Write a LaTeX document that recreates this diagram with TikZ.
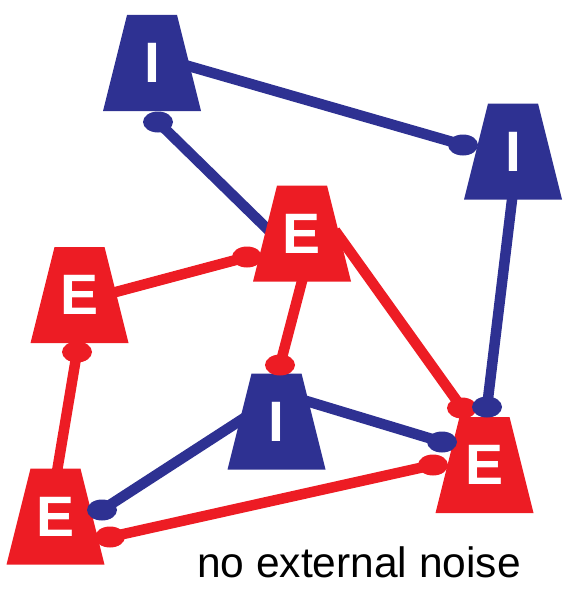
\documentclass[tikz,border=0pt]{standalone}
\usepackage{fontspec}
\setmainfont{Liberation Sans}
\usetikzlibrary{shapes.geometric,backgrounds,calc}
\definecolor{iblue}{RGB}{46,49,146}
\definecolor{ered}{RGB}{237,28,36}

% trapezoid body of a cell: top 50 wide, bottom 98 wide, 96 high
\newcommand\cellbody[2]{%
  \fill[#2] ($(#1.center)+(-25,-48)$) -- ++(50,0) -- ++(24,96) -- ++(-98,0) -- cycle;}

\begin{document}
\begin{tikzpicture}[x=1pt,y=-1pt,
  cell/.style={rectangle, minimum width=98pt, minimum height=96pt, inner sep=0pt,
    text=white, font=\fontsize{57}{57}\selectfont\bfseries},
  inh/.style={cell},
  exc/.style={cell},
  syn/.style={ellipse, minimum width=30pt, minimum height=21pt, inner sep=0pt},
  bsyn/.style={syn, fill=iblue},
  rsyn/.style={syn, fill=ered},
  bwire/.style={draw=iblue, line width=10.5pt},
  rwire/.style={draw=ered, line width=10.5pt}]
\useasboundingbox (0,0) rectangle (575,594);

% cells
\node[inh] (I1) at (152,63) {I};
\node[inh] (I2) at (513,151.5) {I};
\node[exc] (E1) at (302,233.5) {E};
\node[exc] (E2) at (79.5,295) {E};
\node[inh] (I3) at (276.5,421.5) {I};
\node[exc] (E3) at (484.5,465) {E};
\node[exc] (E4) at (55.5,516.5) {E};

% synaptic terminals
\node[rsyn] (sE1) at (247,257) {};
\node[rsyn] (sI3) at (280,365) {};
\node[rsyn] (sE3a) at (462,408) {};
\node[rsyn] (sE3d) at (433,465) {};
\node[rsyn] (sE4r) at (110,537) {};
\node[rsyn] (sE2) at (77,352) {};
\node[bsyn] (sI1) at (158,122) {};
\node[bsyn] (sI2) at (463,145) {};
\node[bsyn] (sE3b) at (487,407) {};
\node[bsyn] (sE3c) at (442,442) {};
\node[bsyn] (sE4b) at (102,510) {};

\begin{scope}[on background layer]
  % wires
  \path[bwire] ($(I1.center)+(33,2)$) -- (sI2.center);
  \path[bwire] (sI1.center) -- ($(E1.center)+(-27,3)$);
  \path[bwire] ($(I2.center)+(0,40)$) -- (sE3b.center);
  \path[rwire] ($(E2.center)+(25,0)$) -- (sE1.center);
  \path[rwire] ($(E1.center)+(2,40)$) -- (sI3.center);
  \path[rwire] ($(E1.center)+(33,-3)$) -- (sE3a.center);
  \path[bwire] ($(I3.center)+(25,-22)$) -- (sE3c.center);
  \path[bwire] ($(I3.center)+(-30,-5)$) -- (sE4b.center);
  \path[rwire] (sE4r.center) -- (sE3d.center);
  \path[rwire] ($(E4.center)+(1,-42)$) -- (sE2.center);
  % cell bodies over the wires
  \cellbody{I1}{iblue}
  \cellbody{I2}{iblue}
  \cellbody{I3}{iblue}
  \cellbody{E1}{ered}
  \cellbody{E2}{ered}
  \cellbody{E3}{ered}
  \cellbody{E4}{ered}
\end{scope}

\node[anchor=base west, inner sep=0pt, font=\fontsize{42.5}{42.5}\selectfont] (cap) at (197,577) {no external noise};
\end{tikzpicture}
\end{document}
